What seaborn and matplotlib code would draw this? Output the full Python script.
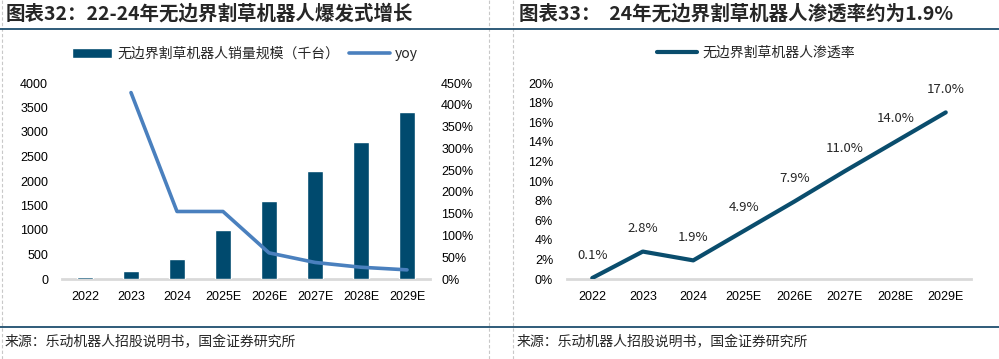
import pandas as pd
import matplotlib.pyplot as plt
import seaborn as sns
import numpy as np
from matplotlib.lines import Line2D

years = ["2022", "2023", "2024", "2025E", "2026E", "2027E", "2028E", "2029E"]
sales = [40, 160, 400, 1000, 1600, 2200, 2800, 3400]
yoy = [np.nan, 4.28, 1.55, 1.55, 0.60, 0.38, 0.27, 0.21]
penetration = [0.1, 2.8, 1.9, 4.9, 7.9, 11.0, 14.0, 17.0]

title_left = "图表32：22-24年无边界割草机器人爆发式增长"
title_right = "图表33：  24年无边界割草机器人渗透率约为1.9%"
source = "来源：乐动机器人招股说明书，国金证券研究所"
sales_label = "无边界割草机器人销量规模（千台）"
pen_label = "无边界割草机器人渗透率"

BAR = "#004A6E"
YOY = "#4A80BE"
PEN = "#0A4D6D"
GRID = "#D9D9D9"

sns.set_theme(style="white")
plt.rcParams['font.family'] = ['Liberation Sans', 'Noto Sans CJK SC', 'DejaVu Sans']
cjk = ['Noto Sans CJK SC', 'DejaVu Sans']

df = pd.DataFrame({"year": years, "pos": range(len(years)), "sales": sales,
                   "yoy": yoy, "pen": penetration})

W, H = 999, 359
fig = plt.figure(figsize=(W / 100, H / 100), dpi=100)

def px_axes(x0, y0, x1, y1):
    return fig.add_axes([x0 / W, 1 - y1 / H, (x1 - x0) / W, (y1 - y0) / H])

def style_axis(a, base=True):
    a.set_xlabel("")
    a.set_ylabel("")
    for s in a.spines.values():
        s.set_visible(False)
    if base:
        a.spines["bottom"].set_visible(True)
        a.spines["bottom"].set_color(GRID)
        a.spines["bottom"].set_linewidth(2)
        a.spines["bottom"].set_zorder(0.5)
    a.tick_params(length=0, labelsize=9, colors="black")

# frame decorations
for x in [2, 489, 513]:
    fig.add_artist(Line2D([x / W, x / W], [0, 1], color="#C8C8C8", lw=0.8, ls=(0, (3, 2))))
for y in [28.5, 327]:
    fig.add_artist(Line2D([0, 1], [1 - y / H, 1 - y / H], color="#1F4E6E", lw=1.3))

fig.text(6 / W, 1 - 14 / H, title_left, family=cjk, fontsize=14, fontweight="bold",
         style="italic", va="center", ha="left")
fig.text(519 / W, 1 - 14 / H, title_right, family=cjk, fontsize=14, fontweight="bold",
         style="italic", va="center", ha="left")
fig.text(5 / W, 1 - 342 / H, source, family=cjk, fontsize=10, va="center", ha="left")
fig.text(517 / W, 1 - 342 / H, source, family=cjk, fontsize=10, va="center", ha="left")

# left chart
ax = px_axes(62, 83, 430, 279)
sns.barplot(data=df, x="year", y="sales", color=BAR, width=0.35, saturation=1,
            ax=ax, label=sales_label, zorder=3)
ax.set_ylim(0, 4000)
ax.set_yticks(np.arange(0, 4001, 500))
ax.set_xlim(-0.5, len(years) - 0.5)
ax2 = ax.twinx()
sns.lineplot(data=df, x="pos", y="yoy", color=YOY, lw=2.6, ax=ax2, label="yoy", legend=False)
ax2.set_ylim(0, 4.5)
ax2.set_yticks(np.arange(0, 4.51, 0.5))
ax2.set_yticklabels([f"{int(round(v * 100))}%" for v in np.arange(0, 4.51, 0.5)])
if ax.legend_:
    ax.legend_.remove()

style_axis(ax)
style_axis(ax2, base=False)
ax.tick_params(axis="y", pad=10)
ax.tick_params(axis="x", pad=9)
ax2.tick_params(axis="y", pad=8)
ax.set_xticks(range(len(years)))
ax.set_xticklabels(years)

h1, l1 = ax.get_legend_handles_labels()
h2, l2 = ax2.get_legend_handles_labels()
fig.legend(h1 + h2, l1 + l2, loc="center", bbox_to_anchor=(245 / W, 1 - 54 / H), ncol=2,
           frameon=False, prop={"family": cjk, "size": 10}, handlelength=2.9,
           handletextpad=0.4, columnspacing=0.7)

# right chart
bx = px_axes(567, 83, 971, 279)
sns.lineplot(data=df, x="pos", y="pen", color=PEN, lw=3, ax=bx, label=pen_label, legend=False)
bx.set_xlim(-0.5, len(years) - 0.5)
bx.set_ylim(0, 20)
bx.set_yticks(np.arange(0, 21, 2))
bx.set_yticklabels([f"{v}%" for v in range(0, 21, 2)])
bx.set_xticks(range(len(years)))
bx.set_xticklabels(years)
style_axis(bx)
bx.tick_params(axis="y", pad=10)
bx.tick_params(axis="x", pad=9)
for p, v in zip(df["pos"], df["pen"]):
    bx.annotate(f"{v:.1f}%", (p, v), xytext=(0, 23), textcoords="offset pixels",
                ha="center", va="center", fontsize=9.5, family=cjk)

hb, lb = bx.get_legend_handles_labels()
fig.legend(hb, lb, loc="center", bbox_to_anchor=(756 / W, 1 - 53 / H), frameon=False,
           prop={"family": cjk, "size": 10}, handlelength=2.9, handletextpad=0.4)

fig.savefig("out.png", dpi=100)
